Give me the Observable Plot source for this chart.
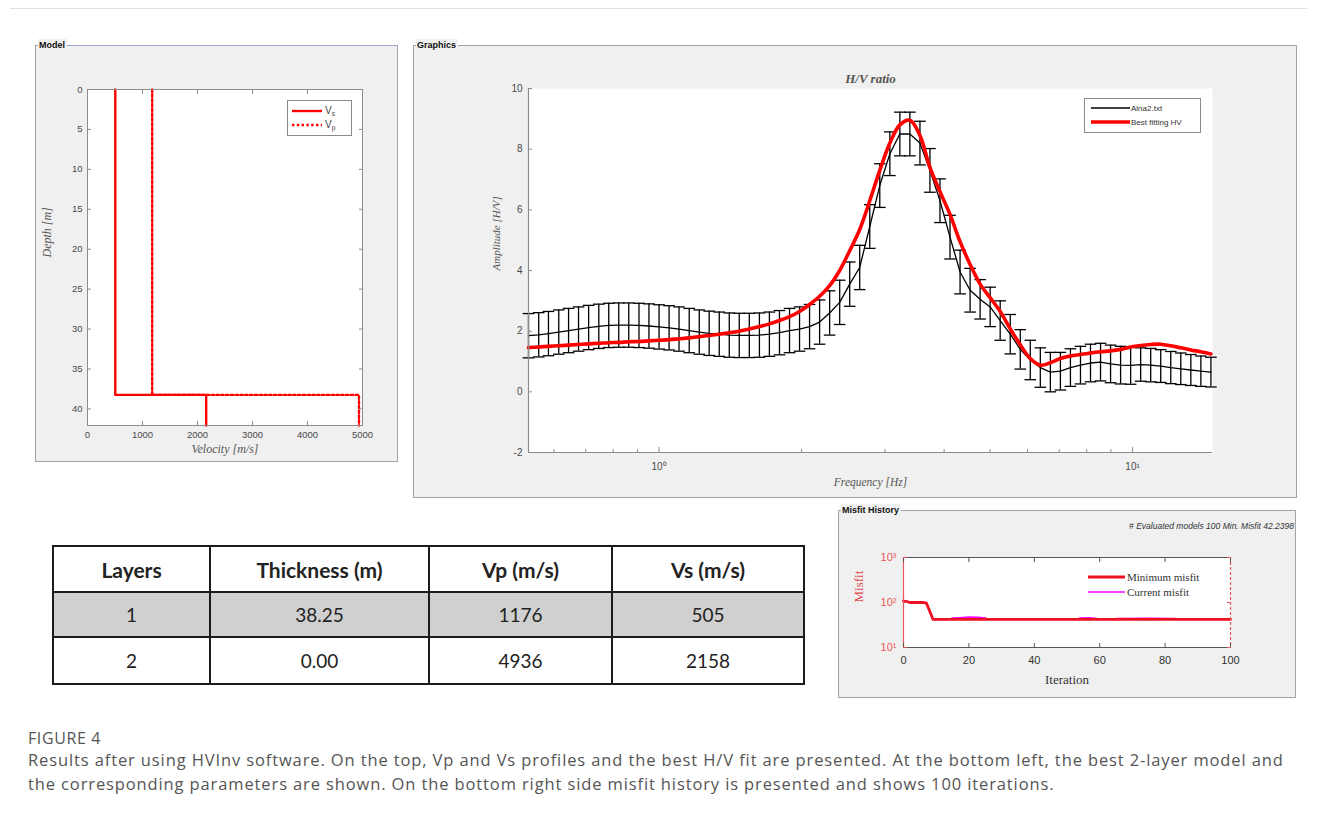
<!DOCTYPE html>
<html><head><meta charset="utf-8">
<script src="https://cdn.jsdelivr.net/npm/d3@7"></script>
<script src="https://cdn.jsdelivr.net/npm/@observablehq/plot@0.6"></script>
<style>
html,body{margin:0;padding:0;background:#fff;}
body{width:1317px;height:818px;position:relative;overflow:hidden;font-family:"Liberation Sans",Arial,sans-serif;}
.panel{position:absolute;background:#f0f0f0;border:1.5px solid #a3a3a3;box-sizing:border-box;}
.ptitle{position:absolute;top:-7px;left:2px;font:bold 9px "Liberation Sans",Arial,sans-serif;background:#f0f0f0;padding:0 2px 0 1px;color:#111;line-height:12px;}
.chart{position:absolute;}
.legend{position:absolute;background:#fff;border:1px solid #8a8a8a;box-sizing:border-box;}
.mono{position:absolute;}
table.res{position:absolute;left:52px;top:545px;border-collapse:collapse;font-family:Lato,"Open Sans",sans-serif;color:#222;}
table.res td,table.res th{border:2px solid #1b1b1b;text-align:center;padding:0;}
table.res th{font-weight:700;font-size:21px;height:44px;}
table.res td{font-size:19px;}
.cap{position:absolute;left:28px;font-family:"Open Sans",sans-serif;color:#555;white-space:nowrap;}
</style></head><body>
<div style="position:absolute;left:10px;top:8px;width:1297px;height:1px;background:#e2e2e2"></div>

<div class="panel" style="left:35px;top:45px;width:363px;height:417px;border-top-color:#9ea3cf"><span class="ptitle">Model</span></div>
<div class="panel" style="left:413px;top:45px;width:884px;height:453px;"><span class="ptitle">Graphics</span></div>
<div class="panel" style="left:838px;top:510px;width:458px;height:188px;"><span class="ptitle">Misfit History</span></div>

<div id="model" class="chart" style="left:35px;top:45px"></div>
<div id="hv" class="chart" style="left:413px;top:45px"></div>
<div id="misfit" class="chart" style="left:838px;top:512px"></div>
<div id="legends"></div>
<div id="table"></div>

<div class="cap" style="top:727px;font-size:16px;letter-spacing:0.6px">FIGURE 4</div>
<div class="cap" style="top:748px;font-size:16.5px;line-height:24px;letter-spacing:0.88px">Results after using HVInv software. On the top, Vp and Vs profiles and the best H/V fit are presented. At the bottom left, the best 2-layer model and<br>the corresponding parameters are shown. On the bottom right side misfit history is presented and shows 100 iterations.</div>

<script>
// ---------------- DATA ----------------
const layers = [1, 2];
const thickness = [38.25, 0.00];
const vp = [1176, 4936];
const vs = [505, 2158];
const depthTicks = [0, 5, 10, 15, 20, 25, 30, 35, 40];
const velocityTicks = [0, 1000, 2000, 3000, 4000, 5000];

const freq = [0.530,0.557,0.584,0.614,0.644,0.676,0.710,0.746,0.783,0.822,
  0.863,0.907,0.952,1.000,1.050,1.102,1.158,1.216,1.276,1.340,
  1.407,1.477,1.551,1.629,1.710,1.796,1.886,1.980,2.079,2.183,
  2.292,2.407,2.527,2.653,2.786,2.925,3.072,3.225,3.386,3.556,
  3.733,3.920,4.116,4.322,4.538,4.765,5.003,5.253,5.516,5.792,
  6.081,6.385,6.705,7.040,7.392,7.762,8.150,8.557,8.985,9.434,
  9.906,10.401,10.921,11.467,12.041,12.643,13.275,13.939,14.636];
const hvMean = [1.85,1.88,1.92,1.97,2.02,2.07,2.12,2.16,2.19,2.20,
  2.20,2.19,2.17,2.14,2.11,2.07,2.02,1.97,1.93,1.90,
  1.87,1.86,1.86,1.87,1.90,1.95,2.02,2.07,2.15,2.30,
  2.60,2.95,3.55,4.10,5.45,6.80,7.85,8.50,8.50,8.20,
  7.30,6.30,5.10,3.95,3.35,3.05,2.80,2.35,1.90,1.40,
  1.05,0.80,0.65,0.68,0.80,0.88,0.95,0.98,0.92,0.88,
  0.87,0.90,0.88,0.85,0.80,0.76,0.72,0.68,0.65];
const hvErr = [0.73,0.73,0.73,0.73,0.73,0.73,0.73,0.73,0.73,0.73,
  0.73,0.73,0.73,0.73,0.73,0.73,0.73,0.73,0.73,0.73,
  0.73,0.73,0.73,0.73,0.73,0.73,0.73,0.73,0.73,0.73,
  0.73,0.73,0.73,0.73,0.72,0.72,0.72,0.72,0.72,0.72,
  0.72,0.72,0.72,0.72,0.72,0.65,0.65,0.65,0.65,0.65,
  0.65,0.65,0.65,0.62,0.62,0.62,0.62,0.62,0.62,0.62,
  0.62,0.55,0.55,0.54,0.53,0.52,0.51,0.50,0.49];
const hvFit = [1.46,1.48,1.50,1.52,1.54,1.56,1.58,1.60,1.62,1.63,
  1.65,1.66,1.68,1.70,1.72,1.75,1.78,1.82,1.86,1.90,
  1.95,2.00,2.07,2.15,2.24,2.35,2.48,2.65,2.88,3.15,
  3.50,4.00,4.65,5.35,6.30,7.30,8.20,8.80,8.95,8.45,
  7.40,6.60,5.85,4.95,4.20,3.55,3.10,2.65,2.08,1.55,
  1.10,0.88,0.96,1.10,1.18,1.23,1.28,1.32,1.35,1.40,
  1.48,1.53,1.56,1.57,1.52,1.45,1.38,1.32,1.25];
const ampTicks = [-2, 0, 2, 4, 6, 8, 10];
const freqDecades = [1, 10];
const freqDecadeLabels = ["10\u2070", "10\u00B9"];
const freqMinor = [0.6, 0.7, 0.8, 0.9, 2, 3, 4, 5, 6, 7, 8, 9];

const iterMin   = [0, 1, 2, 3, 6, 7, 8, 9, 100];
const misfitMin = [108, 104, 100, 100, 100, 97, 65, 42.24, 42.24];
const iterCur   = [0, 1, 2, 7, 8, 9, 14, 15, 17, 20, 23, 25, 26, 53, 54, 57, 59, 60, 64, 65, 75, 83, 84, 100];
const misfitCur = [110, 106, 100, 100, 65, 42.24, 42.5, 45, 46, 47.5, 47, 45, 42.3, 42.3, 45, 45.5, 44, 42.3, 42.5, 44, 44.5, 44, 42.5, 42.3];
const iterTicks = [0, 20, 40, 60, 80, 100];
const misfitTicks = [10, 100, 1000];
const misfitTickLabels = ["10\u00B9", "10\u00B2", "10\u00B3"];
const evaluatedModels = 100;
const minMisfit = 42.2398;

// ---------------- HELPERS ----------------
const depthMax = 42.08;
const axisStroke = "#8c8c8c", tickText = "#4a4a4a";

function profile(v) {
  const pts = []; let top = 0;
  for (let i = 0; i < v.length; i++) {
    const bottom = i < v.length - 1 ? top + thickness[i] : depthMax;
    pts.push({v: v[i], d: top}, {v: v[i], d: bottom});
    top = bottom;
  }
  return pts;
}
const capSymbol = {draw(ctx, size) { const r = Math.sqrt(size / Math.PI); ctx.moveTo(-r, 0); ctx.lineTo(r, 0); }};

// ---------------- MODEL ----------------
const model = Plot.plot({
  width: 363, height: 417, marginLeft: 52, marginTop: 44, marginRight: 36, marginBottom: 37,
  style: {background: "transparent", fontFamily: "Liberation Sans, Arial, sans-serif", fontSize: "9.5px", overflow: "visible"},
  x: {domain: [0, 5000]},
  y: {domain: [0, depthMax], reverse: true},
  marks: [
    Plot.frame({fill: "white", stroke: "none"}),
    Plot.line(profile(vs), {x: "v", y: "d", stroke: "#ff0000", strokeWidth: 2.4}),
    Plot.line(profile(vp), {x: "v", y: "d", stroke: "#ff0000", strokeWidth: 2.4, strokeDasharray: "2.4 2.4"}),
    Plot.frame({stroke: axisStroke}),
    Plot.axisX({anchor: "bottom", ticks: velocityTicks, tickSize: -4, tickPadding: 10, tickFormat: d => String(d), label: null, stroke: axisStroke, fill: tickText}),
    Plot.axisX({anchor: "top", ticks: velocityTicks, tickSize: -4, tickFormat: () => "", label: null, stroke: axisStroke}),
    Plot.axisY({anchor: "left", ticks: depthTicks, tickSize: -4, tickPadding: 9, tickFormat: d => String(d), label: null, stroke: axisStroke, fill: tickText}),
    Plot.axisY({anchor: "right", ticks: depthTicks, tickSize: -4, tickFormat: () => "", label: null, stroke: axisStroke}),
    Plot.text(["Depth [m]"], {frameAnchor: "left", dx: -40, rotate: -90, fontFamily: "Liberation Serif", fontStyle: "italic", fontSize: 12, fill: "#555"}),
    Plot.text(["Velocity [m/s]"], {frameAnchor: "bottom", dy: 27, fontFamily: "Liberation Serif", fontStyle: "italic", fontSize: 12, fill: "#555"})
  ]
});
document.getElementById("model").append(model);

// ---------------- H/V ----------------
const hv = freq.map((f, i) => ({f, mean: hvMean[i], lo: hvMean[i] - hvErr[i], hi: hvMean[i] + hvErr[i], fit: hvFit[i]}));
const fDom = [0.53, 14.75], aDom = [-2, 10];
const hvPlot = Plot.plot({
  width: 884, height: 453, marginLeft: 115, marginTop: 43, marginRight: 85, marginBottom: 46,
  style: {background: "transparent", fontFamily: "Liberation Sans, Arial, sans-serif", fontSize: "10px", overflow: "visible"},
  x: {type: "log", domain: fDom},
  y: {domain: aDom},
  marks: [
    Plot.frame({fill: "white", stroke: "none"}),
    Plot.ruleX(hv, {x: "f", y1: "lo", y2: "hi", stroke: "#000", strokeWidth: 1.3}),
    Plot.dot(hv, {x: "f", y: "lo", symbol: capSymbol, r: 5.8, stroke: "#000", fill: "none", strokeWidth: 1.3}),
    Plot.dot(hv, {x: "f", y: "hi", symbol: capSymbol, r: 5.8, stroke: "#000", fill: "none", strokeWidth: 1.3}),
    Plot.line(hv, {x: "f", y: "mean", stroke: "#000", strokeWidth: 1.3}),
    Plot.line(hv, {x: "f", y: "fit", stroke: "#ff0000", strokeWidth: 3.6, curve: "catmull-rom"}),
    Plot.ruleX([fDom[0]], {stroke: axisStroke, strokeWidth: 1.2}),
    Plot.ruleY([aDom[0]], {stroke: axisStroke, strokeWidth: 1.2}),
    Plot.axisY({anchor: "left", ticks: ampTicks, tickSize: -4, tickPadding: 10, tickFormat: d => String(d), label: null, stroke: axisStroke, fill: tickText}),
    Plot.axisX({anchor: "bottom", ticks: freqDecades, tickSize: -5, tickPadding: 15, tickFormat: d => freqDecadeLabels[freqDecades.indexOf(d)], label: null, stroke: axisStroke, fill: tickText}),
    Plot.axisX({anchor: "bottom", ticks: freqMinor, tickSize: -3, tickFormat: () => "", label: null, stroke: axisStroke}),
    Plot.text(["H/V ratio"], {frameAnchor: "top", dy: -15, fontFamily: "Liberation Serif", fontStyle: "italic", fontWeight: "bold", fontSize: 13, fill: "#555"}),
    Plot.text(["Amplitude [H/V]"], {frameAnchor: "left", dx: -32, rotate: -90, fontFamily: "Liberation Serif", fontStyle: "italic", fontSize: 11, fill: "#555"}),
    Plot.text(["Frequency [Hz]"], {frameAnchor: "bottom", dy: 33, fontFamily: "Liberation Serif", fontStyle: "italic", fontSize: 11.5, fill: "#555"})
  ]
});
document.getElementById("hv").append(hvPlot);

// ---------------- MISFIT ----------------
const minData = iterMin.map((it, i) => ({it, m: misfitMin[i]}));
const curData = iterCur.map((it, i) => ({it, m: misfitCur[i]}));
const misRed = "#e8585c";
const misPlot = Plot.plot({
  width: 458, height: 186, marginLeft: 65, marginTop: 45, marginRight: 66, marginBottom: 51,
  style: {background: "transparent", fontFamily: "Liberation Sans, Arial, sans-serif", fontSize: "11px", overflow: "visible"},
  x: {domain: [0, 100]},
  y: {type: "log", domain: [10, 1000]},
  marks: [
    Plot.frame({fill: "white", stroke: "none"}),
    Plot.line(curData, {x: "it", y: "m", stroke: "#ff00ff", strokeWidth: 1.6}),
    Plot.line(minData, {x: "it", y: "m", stroke: "#ee1122", strokeWidth: 2.8}),
    Plot.ruleY([1000], {stroke: "#555"}),
    Plot.ruleY([10], {stroke: "#555"}),
    Plot.ruleX([0], {stroke: misRed, strokeWidth: 1.2}),
    Plot.ruleX([100], {stroke: misRed, strokeWidth: 1.2, strokeDasharray: "3 2"}),
    Plot.axisX({anchor: "bottom", ticks: iterTicks, tickSize: -4, tickPadding: 13, tickFormat: d => String(d), label: null, stroke: "#555", fill: "#333"}),
    Plot.axisX({anchor: "top", ticks: iterTicks, tickSize: -4, tickFormat: () => "", label: null, stroke: "#555"}),
    Plot.axisY({anchor: "left", ticks: misfitTicks, tickSize: -4, tickPadding: 11, tickFormat: d => misfitTickLabels[misfitTicks.indexOf(d)], label: null, stroke: misRed, fill: misRed}),
    Plot.axisY({anchor: "right", ticks: misfitTicks, tickSize: -4, tickFormat: () => "", label: null, stroke: misRed}),
    Plot.text(["Misfit"], {frameAnchor: "left", dx: -45, rotate: -90, fontFamily: "Liberation Serif", fontSize: 13, fill: "#e04a4a"}),
    Plot.text(["Iteration"], {frameAnchor: "bottom", dy: 36, fontFamily: "Liberation Serif", fontSize: 13, fill: "#333"})
  ]
});
document.getElementById("misfit").append(misPlot);

// ---------------- LEGENDS ----------------
const lg = document.getElementById("legends");
lg.innerHTML = `
<div class="legend" style="left:287px;top:100px;width:65px;height:36px;">
  <svg width="63" height="34" style="position:absolute;left:0;top:0">
    <line x1="4" y1="10" x2="34" y2="10" stroke="#ff0000" stroke-width="2.4"/>
    <line x1="4" y1="24" x2="34" y2="24" stroke="#ff0000" stroke-width="2.4" stroke-dasharray="2.4 2.4"/>
    <text x="37" y="13" font-family="Liberation Sans" font-size="10" fill="#444">V<tspan font-size="6.5" dy="2">s</tspan></text>
    <text x="37" y="27" font-family="Liberation Sans" font-size="10" fill="#444">V<tspan font-size="6.5" dy="2">p</tspan></text>
  </svg>
</div>
<div class="legend" style="left:1084px;top:98px;width:117px;height:35px;">
  <svg width="115" height="33" style="position:absolute;left:0;top:0">
    <line x1="6" y1="9" x2="45" y2="9" stroke="#000" stroke-width="1.4"/>
    <line x1="6" y1="23" x2="45" y2="23" stroke="#ff0000" stroke-width="3.4"/>
    <text x="46" y="12" font-family="Liberation Sans" font-size="8" fill="#333">Alna2.txt</text>
    <text x="46" y="26" font-family="Liberation Sans" font-size="8" fill="#333">Best fitting HV</text>
  </svg>
</div>
<div class="mono" style="left:1086px;top:570px;width:130px;height:30px;">
  <svg width="130" height="30" style="position:absolute;left:0;top:0">
    <line x1="2" y1="7" x2="39" y2="7" stroke="#ee1122" stroke-width="2.8"/>
    <line x1="2" y1="22" x2="39" y2="22" stroke="#ff00ff" stroke-width="1.6"/>
    <text x="41" y="11" font-family="Liberation Serif" font-size="11" fill="#333">Minimum misfit</text>
    <text x="41" y="26" font-family="Liberation Serif" font-size="11" fill="#333">Current misfit</text>
  </svg>
</div>
<div class="mono" style="left:1000px;top:521px;width:294px;text-align:right;font:italic 8.5px 'Liberation Sans',Arial,sans-serif;color:#333;white-space:nowrap"># Evaluated models ${evaluatedModels} Min. Misfit ${minMisfit}</div>
`;

// ---------------- TABLE ----------------
const colW = [157, 219, 183, 192];
const head = ["Layers", "Thickness (m)", "Vp (m/s)", "Vs (m/s)"];
let html = `<table class="res"><colgroup>${colW.map(w => `<col style="width:${w}px">`).join("")}</colgroup>`;
html += `<tr>${head.map(h => `<th>${h}</th>`).join("")}</tr>`;
layers.forEach((l, i) => {
  const bg = i === 0 ? "#d0d0d0" : "#fff";
  const h = i === 0 ? 45 : 47;
  html += `<tr style="background:${bg};height:${h}px"><td>${l}</td><td>${thickness[i].toFixed(2)}</td><td>${vp[i]}</td><td>${vs[i]}</td></tr>`;
});
html += `</table>`;
document.getElementById("table").innerHTML = html;
</script>
</body></html>
